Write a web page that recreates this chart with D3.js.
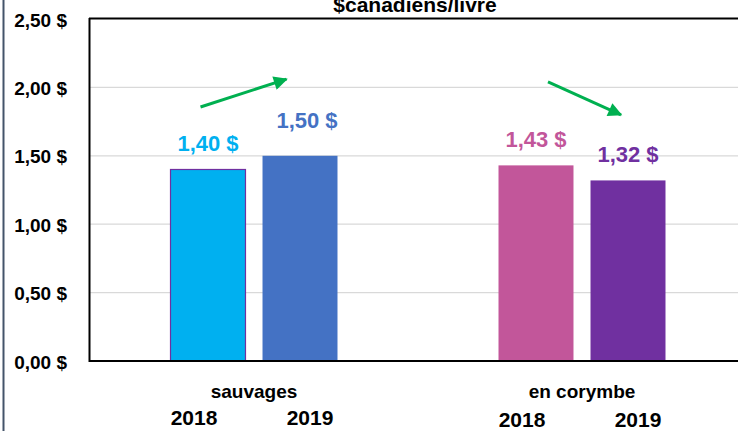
<!DOCTYPE html>
<html><head><meta charset="utf-8">
<script src="https://cdn.jsdelivr.net/npm/d3@7"></script>
<style>
html,body{margin:0;padding:0;background:#fff;}
svg{display:block;}
text{font-family:"Liberation Sans",Arial,sans-serif;font-weight:bold;}
</style></head>
<body>
<script>
// ---- data ----
const categories = ["sauvages", "en corymbe"];
const years = ["2018", "2019"];
const valuesSauvages = [1.40, 1.50];
const valuesCorymbe = [1.43, 1.32];
const valueLabels = [["1,40 $", "1,50 $"], ["1,43 $", "1,32 $"]];
const barColors = [["#00B0F0", "#4472C4"], ["#C2569A", "#7030A0"]];
const yTicks = [0, 0.5, 1.0, 1.5, 2.0, 2.5];
const yTickLabels = ["0,00 $", "0,50 $", "1,00 $", "1,50 $", "2,00 $", "2,50 $"];
const title = "$canadiens/livre";
// trend arrows (value units): [from, to] per category
const trendFrom = [1.857, 2.04];
const trendTo = [2.06, 1.80];

const W = 738, H = 431;
const svg = d3.select("body").append("svg").attr("width", W).attr("height", H);

const x0 = 90, x1 = 746, yTop = 19, yBot = 361;
const y = d3.scaleLinear().domain([0, 2.5]).range([yBot, yTop]);
const xCat = d3.scaleBand().domain(categories).range([x0, x1]).padding(0);
const xYear = d3.scaleBand().domain(years).range([0, xCat.bandwidth()])
  .paddingInner(0.185).paddingOuter(0.875);

const series = [valuesSauvages, valuesCorymbe];

// left slate border
svg.append("line").attr("x1", 3.5).attr("x2", 3.5).attr("y1", 0).attr("y2", H)
  .attr("stroke", "#44546A").attr("stroke-width", 2);

// gridlines
svg.append("g").selectAll("line").data(yTicks.filter(t => t > 0 && t < 2.5)).join("line")
  .attr("x1", x0).attr("x2", W).attr("y1", d => y(d)).attr("y2", d => y(d))
  .attr("stroke", "#D9D9D9").attr("stroke-width", 1.2);

// y axis labels
const yAxis = d3.axisLeft(y).tickValues(yTicks).tickFormat((d, i) => yTickLabels[i]).tickSize(0).tickPadding(0);
const gy = svg.append("g").attr("transform", `translate(67,0)`).call(yAxis);
gy.select(".domain").remove();
gy.selectAll("text").attr("font-size", 19).attr("fill", "#000")
  .attr("font-family", "'Liberation Sans', Arial, sans-serif").attr("font-weight", "bold")
  .attr("dy", "0.37em");

// bars
categories.forEach((c, ci) => {
  const g = svg.append("g").attr("transform", `translate(${xCat(c)},0)`);
  g.selectAll("rect").data(series[ci]).join("rect")
    .attr("x", (d, i) => xYear(years[i]))
    .attr("width", xYear.bandwidth())
    .attr("y", d => y(d))
    .attr("height", d => yBot - y(d))
    .attr("fill", (d, i) => barColors[ci][i])
    .attr("stroke", (d, i) => (ci === 0 && i === 0) ? "#7030A0" : "none")
    .attr("stroke-width", 1.2);
  // value labels
  const lblDx = [[0, 7], [0, 0]];
  const lblDy = [[-18, -28], [-18, -18]];
  g.selectAll("text.val").data(series[ci]).join("text").attr("class", "val")
    .attr("x", (d, i) => xYear(years[i]) + xYear.bandwidth() / 2 + lblDx[ci][i])
    .attr("y", (d, i) => y(d) + lblDy[ci][i])
    .attr("text-anchor", "middle").attr("font-size", 22)
    .attr("fill", (d, i) => barColors[ci][i])
    .text((d, i) => valueLabels[ci][i]);
  // category label
  g.append("text").attr("x", xCat.bandwidth() / 2).attr("y", 398)
    .attr("text-anchor", "middle").attr("font-size", 19).attr("fill", "#000").text(c);
  // year labels
  const yrDx = [-14, 10];
  g.selectAll("text.yr").data(years).join("text").attr("class", "yr")
    .attr("x", (d, i) => xYear(d) + xYear.bandwidth() / 2 + yrDx[i])
    .attr("y", ci === 0 ? 425 : 427)
    .attr("text-anchor", "middle").attr("font-size", 21).attr("fill", "#000").text(d => d);
});

// frame: left, top, bottom
svg.append("line").attr("x1", 89.5).attr("x2", 89.5).attr("y1", yTop - 1).attr("y2", yBot + 1)
  .attr("stroke", "#000").attr("stroke-width", 2);
svg.append("line").attr("x1", 89).attr("x2", W).attr("y1", 18.5).attr("y2", 18.5)
  .attr("stroke", "#000").attr("stroke-width", 2);
svg.append("line").attr("x1", 89).attr("x2", W).attr("y1", yBot).attr("y2", yBot)
  .attr("stroke", "#000").attr("stroke-width", 2);

// title (partially cropped at top)
svg.append("text").attr("x", 415).attr("y", 12).attr("text-anchor", "middle")
  .attr("font-size", 21).attr("fill", "#000").text(title);

// trend arrows
svg.append("defs").append("marker").attr("id", "ah")
  .attr("viewBox", "0 0 10 10").attr("refX", 9).attr("refY", 5)
  .attr("markerUnits", "userSpaceOnUse").attr("markerWidth", 16).attr("markerHeight", 14)
  .attr("orient", "auto")
  .append("path").attr("d", "M0,0 L10,5 L0,10 Z").attr("fill", "#00B050");
const arrowX = [[-7.5, -13.5], [12, -7]];
categories.forEach((c, ci) => {
  const bx = i => xCat(c) + xYear(years[i]) + xYear.bandwidth() / 2;
  svg.append("line")
    .attr("x1", bx(0) + arrowX[ci][0]).attr("y1", y(trendFrom[ci]))
    .attr("x2", bx(1) + arrowX[ci][1]).attr("y2", y(trendTo[ci]))
    .attr("stroke", "#00B050").attr("stroke-width", 3)
    .attr("marker-end", "url(#ah)");
});
</script>
</body></html>
